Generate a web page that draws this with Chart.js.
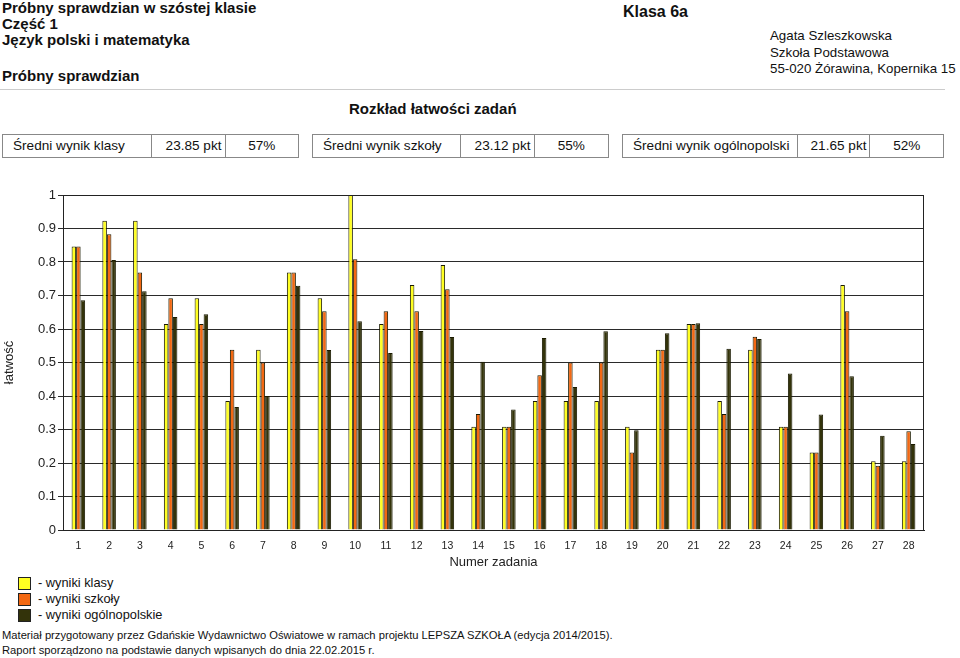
<!DOCTYPE html>
<html lang="pl">
<head>
<meta charset="utf-8">
<script src="https://cdn.jsdelivr.net/npm/chart.js@4/dist/chart.umd.min.js"></script>
<style>
    body { margin: 0; width: 960px; height: 658px; position: relative; background: #fff;
        font-family: "Liberation Sans", Arial, sans-serif; color: #111; overflow: hidden; }
    .abs { position: absolute; white-space: nowrap; }
    .b { font-weight: bold; }
    .stat { position: absolute; top: 134px; height: 24px; border: 1px solid #888; display: flex; box-sizing: border-box; font-size: 13.6px; }
    .stat div { line-height: 22px; box-sizing: border-box; }
    .stat div + div { border-left: 1px solid #888; }
    .sq { position: absolute; left: 18px; width: 11px; height: 11px; border: 1px solid #222; }
    #wykres-box { position: absolute; left: 0; top: 180px; width: 940px; height: 390px; }
</style>
</head>
<body>
<div class="abs b" style="left:2px;top:0;font-size:15px;line-height:16px">Próbny sprawdzian w szóstej klasie<br>Część 1<br>Język polski i matematyka</div>
<div class="abs b" style="left:2px;top:67px;font-size:15px">Próbny sprawdzian</div>
<div class="abs b" style="left:623px;top:3px;font-size:16px">Klasa 6a</div>
<div class="abs" style="left:770px;top:28px;font-size:13.3px;line-height:16.5px">Agata Szleszkowska<br>Szkoła Podstawowa<br>55-020 Żórawina, Kopernika 15</div>
<div class="abs" style="left:0;top:89px;width:945px;border-top:1px solid #ccc"></div>
<div class="abs b" style="left:349px;top:100px;font-size:15px">Rozkład łatwości zadań</div>

<div class="stat" style="left:2px;width:297px">
    <div style="width:149px;padding-left:10px">Średni wynik klasy</div>
    <div style="width:74px;text-align:right;padding-right:3px">23.85 pkt</div>
    <div style="width:74px;text-align:center">57%</div>
</div>
<div class="stat" style="left:312px;width:297px">
    <div style="width:148px;padding-left:10px">Średni wynik szkoły</div>
    <div style="width:74px;text-align:right;padding-right:3px">23.12 pkt</div>
    <div style="width:75px;text-align:center">55%</div>
</div>
<div class="stat" style="left:622px;width:322px">
    <div style="width:175px;padding-left:10px">Średni wynik ogólnopolski</div>
    <div style="width:73px;text-align:right;padding-right:3px">21.65 pkt</div>
    <div style="width:74px;text-align:center">52%</div>
</div>

<div id="wykres-box"><canvas id="wykres"></canvas></div>

<div class="sq" style="top:577px;background:#ffff22"></div>
<div class="sq" style="top:593px;background:#f36812"></div>
<div class="sq" style="top:609px;background:#33330a"></div>
<div class="abs" style="left:38px;top:575px;font-size:12.8px;line-height:16px">- wyniki klasy<br>- wyniki szkoły<br>- wyniki ogólnopolskie</div>

<div class="abs" style="left:2px;top:628px;font-size:11.2px;line-height:15px">Materiał przygotowany przez Gdańskie Wydawnictwo Oświatowe w ramach projektu LEPSZA SZKOŁA (edycja 2014/2015).<br>Raport sporządzono na podstawie danych wpisanych do dnia 22.02.2015 r.</div>

<script>
const zadania = ['1', '2', '3', '4', '5', '6', '7', '8', '9', '10', '11', '12', '13', '14',
    '15', '16', '17', '18', '19', '20', '21', '22', '23', '24', '25', '26', '27', '28'];
const wynikiKlasy = [0.846, 0.923, 0.923, 0.615, 0.692, 0.385, 0.538, 0.769, 0.692, 1, 0.615, 0.731, 0.791, 0.308,
    0.308, 0.385, 0.385, 0.385, 0.308, 0.538, 0.615, 0.385, 0.538, 0.308, 0.231, 0.731, 0.205, 0.205];
const wynikiSzkoly = [0.846, 0.883, 0.769, 0.692, 0.615, 0.538, 0.5, 0.769, 0.653, 0.808, 0.653, 0.653, 0.719, 0.346,
    0.308, 0.462, 0.5, 0.5, 0.231, 0.538, 0.615, 0.346, 0.577, 0.308, 0.231, 0.653, 0.192, 0.295];
const wynikiKraj = [0.686, 0.806, 0.713, 0.636, 0.644, 0.367, 0.4, 0.729, 0.537, 0.623, 0.528, 0.594, 0.576, 0.502,
    0.36, 0.573, 0.427, 0.593, 0.298, 0.587, 0.617, 0.541, 0.57, 0.467, 0.345, 0.459, 0.281, 0.257];

// ramka wokol obszaru wykresu
const ramka = {
    id: 'ramka',
    afterDraw(chart) {
        const a = chart.chartArea;
        const ctx = chart.ctx;
        ctx.save();
        ctx.strokeStyle = '#222';
        ctx.lineWidth = 1;
        ctx.strokeRect(a.left + 0.5, a.top + 0.5, a.right - a.left - 1, a.bottom - a.top);
        ctx.restore();
    }
};

function zestaw(label, data, kolor) {
    return {
        label: label,
        data: data,
        backgroundColor: kolor,
        borderColor: '#1a1a00',
        borderWidth: 1,
        borderSkipped: 'bottom',
        categoryPercentage: 0.44,
        barPercentage: 1
    };
}

Chart.defaults.font.family = '"Liberation Sans", Arial, sans-serif';
Chart.defaults.color = '#222';

new Chart(document.getElementById('wykres'), {
    type: 'bar',
    data: {
        labels: zadania,
        datasets: [
            zestaw('wyniki klasy', wynikiKlasy, '#ffff22'),
            zestaw('wyniki szkoły', wynikiSzkoly, '#f36812'),
            zestaw('wyniki ogólnopolskie', wynikiKraj, '#33330a')
        ]
    },
    options: {
        responsive: true,
        maintainAspectRatio: false,
        animation: false,
        layout: { padding: { top: 15, right: 16, left: 0, bottom: 0 } },
        plugins: { legend: { display: false }, tooltip: { enabled: false } },
        scales: {
            x: {
                grid: { display: false },
                border: { display: true, color: '#222' },
                ticks: { font: { size: 10.5 }, padding: 2, maxRotation: 0, autoSkip: false },
                title: { display: true, text: 'Numer zadania', font: { size: 13 }, padding: { top: 2, bottom: 0 } },
                afterFit(scale) { scale.height = 40; }
            },
            y: {
                min: 0,
                max: 1,
                ticks: {
                    stepSize: 0.1,
                    font: { size: 13 },
                    padding: 2,
                    callback: (v) => String(Math.round(v * 10) / 10)
                },
                grid: { color: '#2a2a2a', lineWidth: 1, tickLength: 5 },
                border: { display: true, color: '#222' },
                title: { display: true, text: 'łatwość', font: { size: 13 }, padding: { top: 2, bottom: 0 } },
                afterFit(scale) { scale.width = 63; }
            }
        }
    },
    plugins: [ramka]
});
</script>
</body>
</html>
